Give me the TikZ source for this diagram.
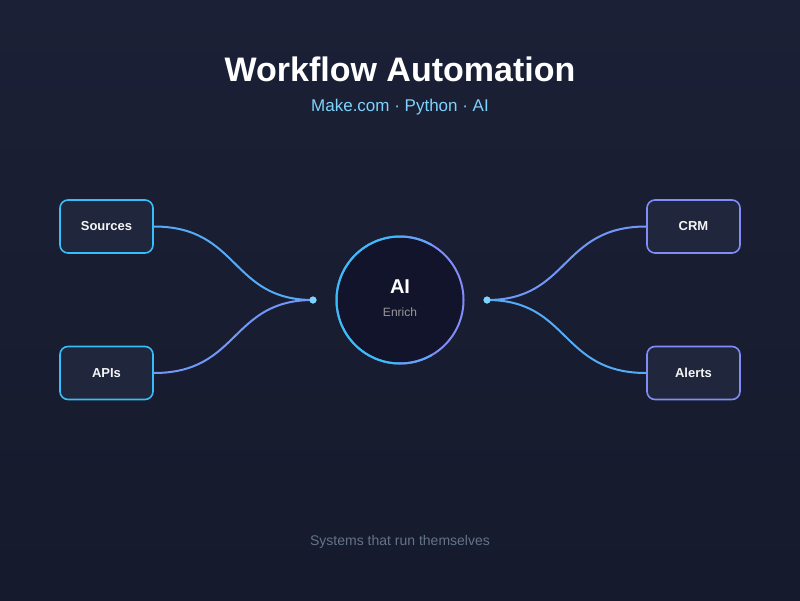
\documentclass[tikz,border=0pt]{standalone}
\usepackage{fontspec}
\setmainfont{Liberation Sans}
\begin{document}
\definecolor{bgA}{HTML}{1B2036}
\definecolor{bgB}{HTML}{151A2C}
\definecolor{cy}{HTML}{38BDF8}
\definecolor{pu}{HTML}{818CF8}
\definecolor{mid}{HTML}{60A5FA}
\definecolor{boxf}{HTML}{20263C}
\definecolor{circf}{HTML}{11142A}
\definecolor{sub}{HTML}{7DD3FC}
\definecolor{footc}{HTML}{64748B}
\begin{tikzpicture}[x=1pt,y=-1pt,
 box/.style={draw=#1,line width=1.6pt,rounded corners=8pt,fill=boxf,minimum width=93pt,minimum height=53pt,text=white!92!gray,font=\bfseries\fontsize{13}{15}\selectfont},
 link/.style={line width=2pt,draw=#1},
 dot/.style={circle,fill=sub,inner sep=0pt,minimum size=7pt}]
\shade[top color=bgA,bottom color=bgB] (0,0) rectangle (800,600);
\useasboundingbox (0,0) rectangle (800,600);
\node[text=white,font=\bfseries\fontsize{34}{40}\selectfont] (title) at (400,69) {Workflow Automation};
\node[text=sub,font=\fontsize{17}{20}\selectfont] (subt) at (400,107) {Make.com · Python · AI};
\node[box=cy] (src) at (106.5,226.5) {Sources};
\node[box=cy] (api) at (106.5,373) {APIs};
\node[box=pu] (crm) at (693.5,226.5) {CRM};
\node[box=pu] (alr) at (693.5,373) {Alerts};
\node[circle,draw=pu,line width=2pt,fill=circf,minimum size=127pt] (ai) at (400,300) {};
\draw[line width=2pt,draw=cy] (ai.center) ++(90:63.5) arc[start angle=90,end angle=270,radius=63.5];
\draw[line width=2pt,draw=mid] (ai.center) ++(90:63.5) arc[start angle=90,end angle=60,radius=63.5];
\draw[line width=2pt,draw=mid] (ai.center) ++(-90:63.5) arc[start angle=-90,end angle=-60,radius=63.5];
\node[text=white,font=\bfseries\fontsize{20}{24}\selectfont] (ait) at (400,287) {AI};
\node[text=gray!80!white,font=\fontsize{12}{14}\selectfont] (aie) at (400,312) {Enrich};
\node[dot] (dl) at (313,300) {};
\node[dot] (dr) at (487,300) {};
\draw[link=mid!70!cy] (src.east) .. controls (240,226.5) and (230,300) .. (dl.center);
\draw[link=mid!50!pu] (api.east) .. controls (240,373) and (230,300) .. (dl.center);
\draw[link=mid!50!pu] (crm.west) .. controls (560,226.5) and (570,300) .. (dr.center);
\draw[link=mid!70!cy] (alr.west) .. controls (560,373) and (570,300) .. (dr.center);
\node[dot] at (dl) {};
\node[dot] at (dr) {};
\node[text=footc,font=\fontsize{14}{17}\selectfont] (foot) at (400,542) {Systems that run themselves};
\end{tikzpicture}
\end{document}
